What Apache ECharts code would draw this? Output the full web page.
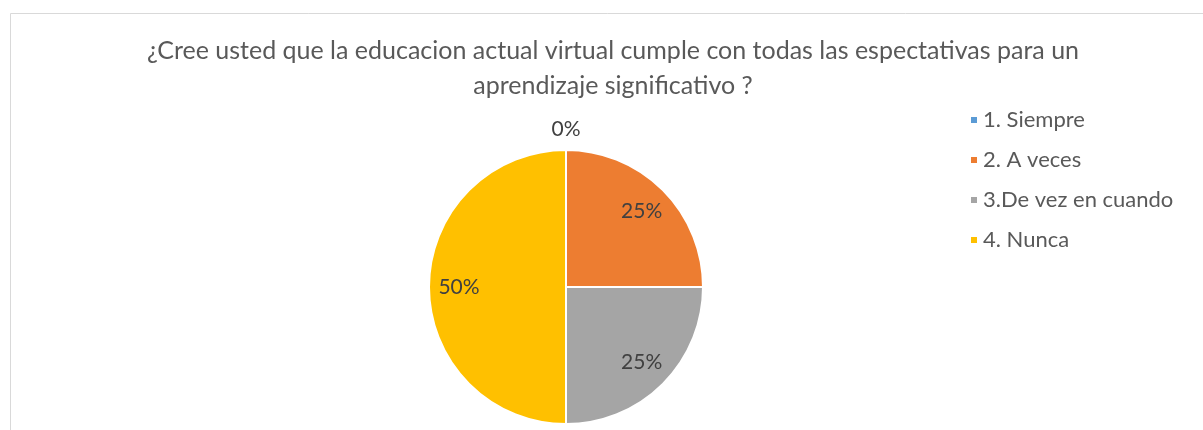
<!DOCTYPE html>
<html>
<head>
<meta charset="utf-8">
<script src="https://cdn.jsdelivr.net/npm/echarts@6/dist/echarts.min.js"></script>
<style>
  html, body { margin: 0; padding: 0; background: #fff; }
  #chart { width: 1203px; height: 430px; }
</style>
</head>
<body>
<div id="chart"></div>
<script>
const titleText = '¿Cree usted que la educacion actual virtual cumple con todas las espectativas para un\naprendizaje significativo ?';
const categories = ['1. Siempre', '2. A veces', '3.De vez en cuando', '4. Nunca'];
const values = [0, 25, 25, 50];
const colors = ['#5B9BD5', '#ED7D31', '#A5A5A5', '#FFC000'];

const font = 'Lato';
const center = [566, 287];

const pieData = categories.map((name, i) => ({ name: name, value: values[i] }));

const chart = echarts.init(document.getElementById('chart'), null, { renderer: 'canvas' });

// helper ring: only carries the labels, sits on top of the real pie
function labelRing(radius, showZero) {
  return {
    type: 'pie',
    center: center,
    radius: radius,
    startAngle: 90,
    clockwise: true,
    silent: true,
    avoidLabelOverlap: false,
    data: pieData,
    itemStyle: { color: 'transparent', borderWidth: 0 },
    emphasis: { disabled: true },
    labelLine: { show: false },
    label: {
      show: true,
      position: 'inside',
      color: '#404040',
      fontFamily: font,
      fontSize: 21,
      formatter: p => ((p.value === 0) === showZero ? p.percent + '%' : '')
    }
  };
}

chart.setOption({
  animation: false,
  color: colors,
  title: {
    text: titleText,
    left: 608,
    top: 28,
    textAlign: 'center',
    textStyle: {
      fontFamily: font,
      fontWeight: 'normal',
      fontSize: 25,
      lineHeight: 35,
      color: '#595959'
    }
  },
  legend: {
    orient: 'vertical',
    left: 964,
    top: 104,
    icon: 'rect',
    itemWidth: 8,
    itemHeight: 8,
    itemGap: 18,
    data: categories,
    textStyle: {
      fontFamily: font,
      fontSize: 22,
      lineHeight: 22,
      color: '#595959'
    }
  },
  graphic: [{
    type: 'rect',
    silent: true,
    shape: { x: 10.5, y: 13.5, width: 1300, height: 600 },
    style: { fill: 'none', stroke: '#d9d9d9', lineWidth: 1 }
  }],
  series: [
    {
      type: 'pie',
      center: center,
      radius: 137,
      startAngle: 90,
      clockwise: true,
      data: pieData,
      itemStyle: { borderColor: '#fff', borderWidth: 2 },
      label: { show: false },
      labelLine: { show: false }
    },
    labelRing([100, 108], false),
    labelRing([149, 161], true)
  ]
});
</script>
</body>
</html>
